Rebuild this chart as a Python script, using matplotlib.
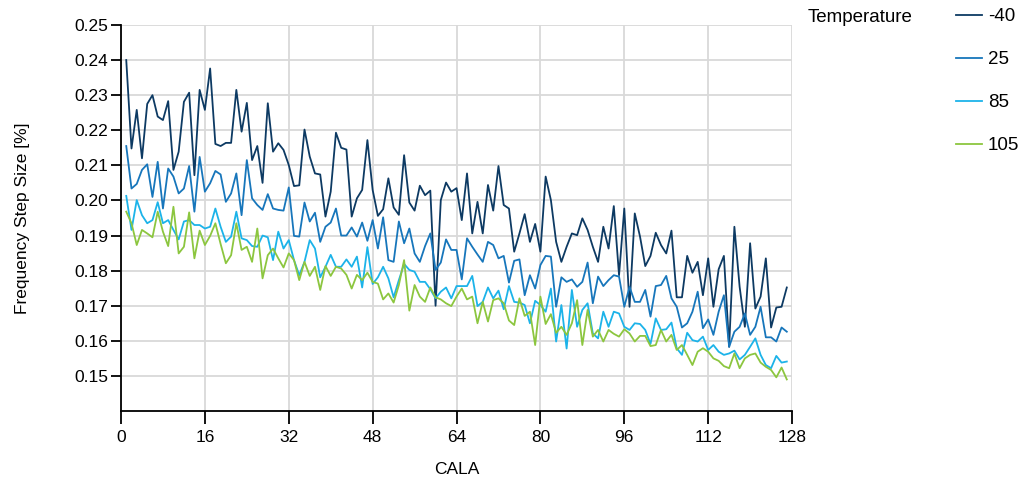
#Frequency step size vs CALA for several temperatures
import numpy as np
import matplotlib
matplotlib.use('Agg')
from matplotlib import pyplot as plt

########################################    Data    #############################################
cala=list(range(1,128))
temps=['-40','25','85','105']

step_m40=[0.2400,0.2148,0.2258,0.2120,0.2275,0.2300,0.2239,0.2229,0.2283,0.2087,0.2139,0.2281,0.2307,0.2072,0.2315,0.2258,0.2376,0.2161,0.2155,0.2164,0.2164,
          0.2315,0.2196,0.2278,0.2115,0.2155,0.2050,0.2277,0.2139,0.2163,0.2144,0.2101,0.2041,0.2043,0.2202,0.2125,0.2077,0.2074,0.1954,0.2025,0.2193,0.2150,
          0.2145,0.1954,0.2006,0.2030,0.2172,0.2030,0.1956,0.1975,0.2063,0.1980,0.1959,0.2129,0.1994,0.1971,0.2042,0.2015,0.2028,0.1700,0.2001,0.2051,
          0.2025,0.2035,0.1944,0.2077,0.1906,0.1996,0.1906,0.2044,0.1971,0.2098,0.1987,0.1977,0.1854,0.1906,0.1961,0.1882,0.1933,0.1854,0.2068,0.2001,0.1882,
          0.1825,0.1868,0.1906,0.1901,0.1949,0.1916,0.1868,0.1825,0.1925,0.1863,0.1984,0.1787,0.1977,0.1697,0.1963,0.1897,0.1813,0.1842,0.1908,0.1873,0.1849,
          0.1914,0.1724,0.1724,0.1842,0.1794,0.1825,0.1730,0.1835,0.1697,0.1804,0.1842,0.1583,0.1925,0.1754,0.1640,0.1878,0.1692,0.1726,0.1835,0.1638,0.1695,0.1697,0.1752]

step_25=[0.2155,0.2034,0.2047,0.2087,0.2103,0.2010,0.2110,0.1977,0.2091,0.2068,0.2020,0.2034,0.2098,0.1968,0.2124,0.2025,0.2049,0.2084,0.2074,0.1996,0.2020,
         0.2077,0.1958,0.2115,0.2006,0.1987,0.1973,0.2018,0.1977,0.1973,0.1971,0.2037,0.1899,0.1897,0.1994,0.1940,0.1965,0.1882,0.1925,0.1937,0.1977,0.1900,
         0.1900,0.1923,0.1897,0.1937,0.1885,0.1944,0.1863,0.1952,0.1830,0.1825,0.1940,0.1878,0.1920,0.1849,0.1825,0.1870,0.1906,0.1802,0.1823,0.1889,
         0.1859,0.1859,0.1775,0.1892,0.1868,0.1846,0.1825,0.1882,0.1873,0.1835,0.1842,0.1766,0.1828,0.1832,0.1730,0.1787,0.1749,0.1816,0.1842,0.1840,0.1697,
         0.1781,0.1768,0.1775,0.1754,0.1768,0.1823,0.1707,0.1783,0.1756,0.1773,0.1787,0.1783,0.1697,0.1754,0.1711,0.1711,0.1745,0.1669,0.1756,0.1759,0.1785,
         0.1721,0.1697,0.1638,0.1650,0.1683,0.1740,0.1636,0.1661,0.1617,0.1683,0.1730,0.1583,0.1626,0.1640,0.1678,0.1617,0.1640,0.1697,0.1610,0.1610,0.1598,0.1638,0.1626]

step_85=[0.2013,0.1916,0.2001,0.1958,0.1935,0.1944,0.1995,0.1935,0.1944,0.1916,0.1889,0.1940,0.1944,0.1930,0.1930,0.1920,0.1925,0.1977,0.1925,0.1882,0.1897,
         0.1968,0.1892,0.1887,0.1870,0.1868,0.1900,0.1895,0.1830,0.1911,0.1863,0.1887,0.1830,0.1787,0.1825,0.1887,0.1863,0.1781,0.1811,0.1845,0.1811,0.1811,
         0.1832,0.1811,0.1840,0.1752,0.1867,0.1762,0.1781,0.1811,0.1778,0.1724,0.1773,0.1819,0.1802,0.1797,0.1768,0.1768,0.1747,0.1721,0.1740,0.1752,
         0.1721,0.1756,0.1756,0.1756,0.1785,0.1699,0.1711,0.1752,0.1721,0.1743,0.1690,0.1756,0.1711,0.1709,0.1702,0.1650,0.1714,0.1702,0.1683,0.1749,0.1598,
         0.1702,0.1578,0.1745,0.1640,0.1688,0.1707,0.1621,0.1607,0.1683,0.1640,0.1683,0.1678,0.1640,0.1631,0.1650,0.1648,0.1631,0.1591,0.1664,0.1631,0.1633,
         0.1652,0.1579,0.1560,0.1623,0.1602,0.1598,0.1612,0.1574,0.1588,0.1569,0.1560,0.1564,0.1572,0.1547,0.1560,0.1583,0.1607,0.1560,0.1531,0.1522,0.1557,0.1538,0.1541]

step_105=[0.1968,0.1935,0.1873,0.1916,0.1906,0.1895,0.1968,0.1911,0.1870,0.1982,0.1849,0.1868,0.1966,0.1835,0.1914,0.1873,0.1899,0.1935,0.1876,0.1821,0.1844,
          0.1935,0.1859,0.1868,0.1825,0.1920,0.1778,0.1844,0.1863,0.1835,0.1809,0.1849,0.1830,0.1773,0.1825,0.1785,0.1811,0.1745,0.1813,0.1785,0.1811,0.1806,
          0.1788,0.1749,0.1788,0.1773,0.1794,0.1768,0.1763,0.1718,0.1735,0.1709,0.1759,0.1830,0.1686,0.1759,0.1726,0.1711,0.1752,0.1724,0.1718,0.1707,
          0.1699,0.1726,0.1749,0.1718,0.1726,0.1650,0.1711,0.1655,0.1716,0.1721,0.1707,0.1658,0.1645,0.1721,0.1671,0.1683,0.1588,0.1726,0.1648,0.1676,0.1623,
          0.1640,0.1617,0.1650,0.1716,0.1588,0.1688,0.1612,0.1631,0.1598,0.1631,0.1620,0.1612,0.1633,0.1621,0.1598,0.1614,0.1614,0.1585,0.1588,0.1631,0.1598,
          0.1617,0.1574,0.1588,0.1560,0.1531,0.1569,0.1579,0.1569,0.1550,0.1543,0.1528,0.1522,0.1564,0.1522,0.1550,0.1560,0.1564,0.1538,0.1526,0.1517,0.1496,0.1524,0.1490]

xticks=[0,16,32,48,64,80,96,112,128]
yticks=[0.15,0.16,0.17,0.18,0.19,0.20,0.21,0.22,0.23,0.24,0.25]

colors=['#0d3a63','#1776bb','#1cb3e9','#8cc63f']

########################################    Plot    #############################################
plt.rcParams['font.family']=['Liberation Sans','DejaVu Sans']
plt.rcParams['font.size']=12.5

fig=plt.figure(figsize=(10.22,4.8),dpi=100)
ax=fig.add_axes([0.1184,0.1437,0.6566,0.8043])

handles=[]
for series,c,t in zip([step_m40,step_25,step_85,step_105],colors,temps):
    h,=ax.plot(cala,series,color=c,lw=1.3,label=t)
    handles.append(h)

ax.set_xlim(0,128)
ax.set_ylim(0.14,0.25)
ax.set_xticks(xticks)
ax.set_yticks(yticks)
ax.set_yticklabels(['%.2f'%v for v in yticks])
ax.grid(True,color='#d9d9d9',lw=1.3)
ax.set_axisbelow(True)
for s in ['top','right']:
    ax.spines[s].set_visible(False)
for s in ['left','bottom']:
    ax.spines[s].set_linewidth(1.3)
    ax.spines[s].set_color('black')
ax.tick_params(axis='y',length=7,width=1.3,pad=2)
ax.tick_params(axis='x',length=9,width=1.3,pad=5)

ax.set_xlabel('CALA',labelpad=12)
ax.set_ylabel('Frequency Step Size [%]',labelpad=32)

fig.text(808/1022,1-17/480,'Temperature',ha='left',va='center',fontsize=13.5)
fig.legend(handles,temps,loc='upper left',bbox_to_anchor=(956/1022,1-8/480),frameon=False,borderpad=0,
           borderaxespad=0,handlelength=1.39,handletextpad=0.32,labelspacing=1.38,fontsize=13.5)

fig.savefig('out.png',dpi=100)
